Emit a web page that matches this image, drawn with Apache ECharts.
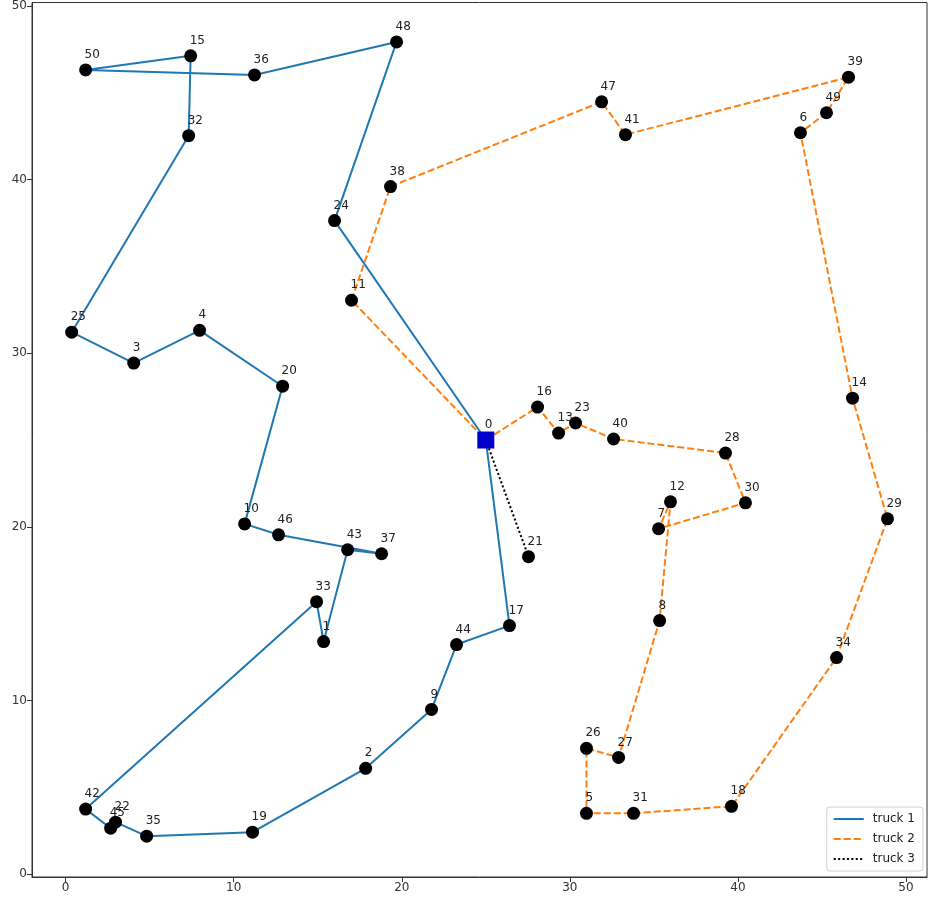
<!DOCTYPE html>
<html>
<head>
<meta charset="utf-8">
<title>Truck routes</title>
<script src="https://cdn.jsdelivr.net/npm/echarts@6/dist/echarts.min.js"></script>
<style>
  html, body { margin: 0; padding: 0; background: #fff; }
  #chart { width: 931px; height: 904px; }
</style>
</head>
<body>
<div id="chart"></div>
<script>
// Customer locations (node 0 is the depot)
const nodeIds = [0, 1, 2, 3, 4, 5, 6, 7, 8, 9, 10, 11, 12, 13, 14, 15, 16, 17, 18, 19, 20,
  21, 22, 23, 24, 25, 26, 27, 28, 29, 30, 31, 32, 33, 34, 35, 36, 37, 38, 39, 40,
  41, 42, 43, 44, 45, 46, 47, 48, 49, 50];
const nodeX = [25.0, 15.35, 17.85, 4.05, 7.97, 30.99, 43.72, 35.28, 35.34, 21.77, 10.65,
  17.01, 35.99, 29.33, 46.82, 7.44, 28.08, 26.41, 39.62, 11.12, 12.91,
  27.54, 2.97, 30.34, 16.0, 0.36, 30.99, 32.9, 39.26, 48.9, 40.45,
  33.79, 7.32, 14.93, 45.87, 4.82, 11.24, 18.8, 19.33, 46.58, 32.6,
  33.31, 1.19, 16.78, 23.26, 2.68, 12.67, 31.89, 19.69, 45.27, 1.19];
const nodeY = [25.0, 13.39, 6.09, 29.43, 31.32, 3.5, 42.7, 19.89, 14.6, 9.48, 20.17,
  33.05, 21.44, 25.4, 27.41, 47.13, 26.9, 14.31, 3.9, 2.41, 28.1,
  18.28, 2.99, 25.98, 37.64, 31.21, 7.24, 6.72, 24.25, 20.46, 21.38,
  3.5, 42.53, 15.69, 12.47, 2.18, 46.03, 18.45, 39.6, 45.9, 25.06,
  42.59, 3.74, 18.68, 13.22, 2.64, 19.54, 44.48, 47.93, 43.85, 46.32];

// Visiting order of each truck
const truckNames = ['truck 1', 'truck 2', 'truck 3'];
const route1 = [0, 24, 48, 36, 50, 15, 32, 25, 3, 4, 20, 10, 46, 37, 43, 1, 33, 42, 45, 22, 35, 19, 2, 9, 44, 17, 0];
const route2 = [0, 16, 13, 23, 40, 28, 30, 7, 12, 8, 27, 26, 5, 31, 18, 34, 29, 14, 6, 49, 39, 41, 47, 38, 11, 0];
const route3 = [0, 21, 0];

const tickValues = [0, 10, 20, 30, 40, 50];

const routes = [route1, route2, route3];
const lineColors = ['#1f77b4', '#ff7f0e', '#000000'];
const lineTypes = ['solid', [7, 3], [2, 2.4]];

const pt = id => [nodeX[id], nodeY[id], id];

const routeSeries = routes.map((r, i) => ({
  name: truckNames[i],
  type: 'line',
  data: r.map(pt),
  showSymbol: false,
  symbol: 'none',
  silent: true,
  animation: false,
  z: 2,
  lineStyle: { color: lineColors[i], width: 2, type: lineTypes[i], opacity: 1 },
  itemStyle: { color: lineColors[i] }
}));

const labelStyle = {
  show: true,
  position: 'inside',
  align: 'left',
  verticalAlign: 'middle',
  offset: [-1, -15],
  formatter: p => String(p.value[2]),
  color: '#222',
  fontSize: 12,
  fontFamily: 'DejaVu Sans'
};

const customers = nodeIds.filter(id => id !== 0).map(pt);

const markerSeries = [
  {
    type: 'scatter',
    data: customers,
    symbol: 'circle',
    symbolSize: 13,
    itemStyle: { color: '#000', opacity: 1 },
    label: labelStyle,
    animation: false,
    z: 5
  },
  {
    type: 'scatter',
    data: [pt(0)],
    symbol: 'rect',
    symbolSize: 17,
    itemStyle: { color: '#0000cd', opacity: 1 },
    label: labelStyle,
    animation: false,
    z: 6
  }
];

const axisCommon = {
  type: 'value',
  splitLine: { show: false },
  axisLine: { show: true, onZero: false, lineStyle: { color: '#333', width: 1 } },
  axisTick: { show: true, length: 5, customValues: tickValues, lineStyle: { color: '#333' } },
  axisLabel: { customValues: tickValues, color: '#333', fontSize: 12, fontFamily: 'DejaVu Sans', margin: 5 }
};

const chart = echarts.init(document.getElementById('chart'), null, { renderer: 'canvas' });
chart.setOption({
  animation: false,
  backgroundColor: '#fff',
  grid: {
    left: 32, right: 4, top: 1, bottom: 27,
    show: true, borderColor: '#333', borderWidth: 1, backgroundColor: 'transparent'
  },
  xAxis: Object.assign({}, axisCommon, { min: -2, max: 51.25 }),
  yAxis: Object.assign({}, axisCommon, { min: -0.17, max: 50.2 }),
  legend: {
    data: truckNames,
    orient: 'vertical',
    right: 8,
    bottom: 33,
    itemWidth: 30,
    itemHeight: 12,
    itemGap: 8,
    padding: [6, 8, 6, 6],
    backgroundColor: 'rgba(255,255,255,0.85)',
    borderColor: '#d0d0d0',
    borderWidth: 1,
    borderRadius: 3,
    itemStyle: { opacity: 0 },
    textStyle: { color: '#222', fontSize: 12, fontFamily: 'DejaVu Sans', padding: [0, 0, 0, 4] }
  },
  series: routeSeries.concat(markerSeries)
});
</script>
</body>
</html>
